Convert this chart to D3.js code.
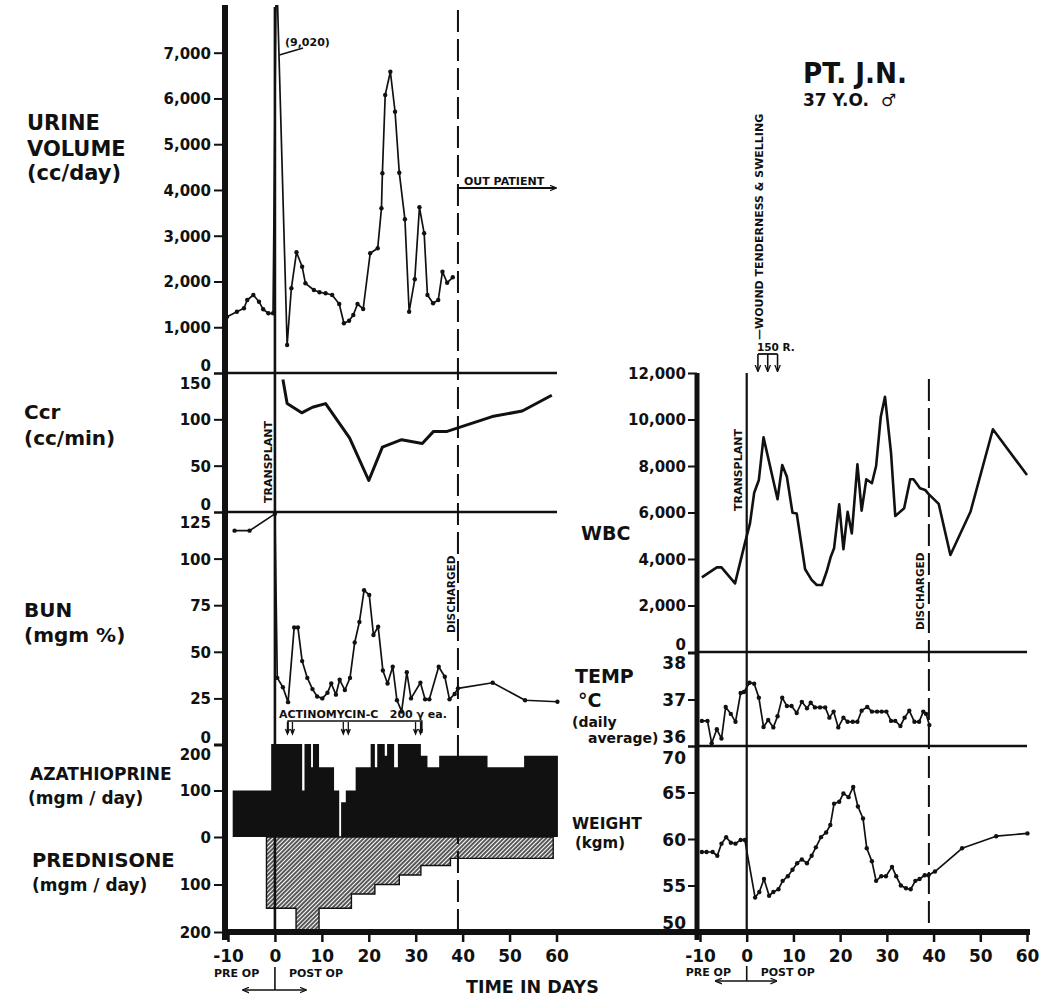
<!DOCTYPE html>
<html>
<head>
<meta charset="utf-8">
<script src="https://d3js.org/d3.v7.min.js"></script>
<style>
  body { margin: 0; background: #fff; }
  svg text { font-family: "DejaVu Sans", sans-serif; font-weight: bold; fill: #111; }
</style>
</head>
<body>
<script>
var width = 1050, height = 1004, ink = "#111";

// ---- values: [day, value] ----
var urine = [[-10.2,1230],[-8.1,1340],[-6.6,1414],[-5.9,1595],[-4.6,1705],[-3.4,1558],[-2.5,1392],[-1.4,1305],[-0.4,1305],
  [0.3,9020],[2.6,612],[3.5,1851],[4.6,2638],[5.8,2323],[6.5,1960],[8.3,1814],[9.5,1764],[10.8,1742],[12.2,1705],
  [13.7,1508],[14.7,1086],[15.8,1143],[16.7,1268],[17.6,1508],[18.8,1399],[20.3,2616],[21.9,2725],[22.7,3599],
  [22.9,4364],[23.5,6075],[24.6,6584],[25.6,5710],[26.5,4377],[27.7,3359],[28.6,1340],[29.8,2048],[30.8,3621],
  [31.8,3053],[32.5,1705],[33.7,1523],[34.8,1595],[35.7,2214],[36.7,1973],[37.9,2091]];

var ccr = [[1.7,143],[2.6,117],[5.7,107],[8.0,113],[10.8,117],[15.9,80],[20.0,34],[22.9,70],[27.0,78],
  [31.4,74],[33.8,87],[36.7,87],[46.3,103],[52.7,109],[59.0,126]];

var bun = [[-8.6,115],[-5.4,115],[0,124],[0.5,36],[1.7,31],[2.8,23],[4.1,63],[4.9,63],[5.8,45],[6.9,36],[8.0,30],
  [9.0,26],[10.1,25],[11.2,28],[12.0,33],[13.0,27],[13.8,35],[14.9,29.5],[16.0,36],[17.0,55],[18.0,66],[19.0,83],
  [20.1,80.5],[21.0,59],[22.0,63.5],[23.0,40],[24.0,33],[25.1,42],[26.0,24],[27.0,18],[28.1,39],[29.0,25],
  [31.0,33.4],[32.0,24.5],[32.9,24.5],[34.9,42],[36.2,36.6],[37.2,24.5],[38.3,27.4],[39.0,30.4],[46.4,33.4],
  [53.3,24],[60.2,23.2]];

// step doses: start day of each step, dose of that step
var azaStart = [-9,-0.8,5.8,6.3,7.7,8.1,9.4,12.6,13.7,14.1,15.1,17.2,20.4,21.3,21.8,23.4,23.9,25.4,26.2,31.1,32.5,35,45.3,53.1];
var azaDose  = [100,200,100,200,150,200,150,100,0,75,100,150,200,150,200,175,200,150,200,175,150,175,150,175];
var azaEnd = 60.3;
var predStart = [-1.8,4.5,9.4,16.3,21.3,26.5,31.1,37.4];
var predDose  = [150,200,150,120,100,80,60,45];
var predEnd = 59.3;
var actinoDays = [3.2,15.1,30.5], actinoSpan = [2.8,31.3];

var wbc = [[-9.6,3210],[-6.4,3640],[-5.4,3640],[-2.5,2950],[-0.4,4670],[0.7,5530],[1.6,6850],[2.6,7400],[3.6,9230],
  [6.6,6570],[7.6,8040],[8.6,7540],[9.8,5990],[10.7,5960],[12.5,3560],[13.9,3100],[15.0,2880],[16.1,2880],[17.1,3450],
  [18.0,4100],[18.7,4460],[19.8,6350],[20.7,4420],[21.6,6030],[22.5,5100],[23.7,8070],[24.6,6080],[25.6,7430],
  [26.8,7260],[27.7,8000],[28.7,10120],[29.6,10980],[30.9,8550],[31.8,5850],[33.7,6180],[35.0,7430],[35.7,7430],
  [37.1,7040],[38.2,6970],[38.9,6800],[41.1,6370],[43.6,4170],[47.9,6030],[52.7,9580],[60.0,7610]];

var temp = [[-9.6,36.54],[-8.4,36.54],[-7.5,36.06],[-6.4,36.36],[-5.4,36.16],[-4.5,36.84],[-3.4,36.69],[-2.4,36.52],
  [-1.3,37.14],[-0.6,37.16],[0.6,37.36],[1.6,37.34],[2.6,37.04],[3.6,36.41],[4.6,36.56],[5.7,36.40],[6.6,36.64],
  [7.6,37.04],[8.6,36.86],[9.6,36.86],[10.7,36.71],[11.8,36.95],[12.9,36.81],[13.7,36.93],[14.6,36.83],[15.7,36.83],
  [16.8,36.83],[17.7,36.61],[18.6,36.74],[19.6,36.40],[20.7,36.61],[21.6,36.52],[22.7,36.52],[23.7,36.52],[24.6,36.76],
  [25.8,36.84],[26.8,36.74],[27.9,36.74],[28.9,36.74],[29.9,36.74],[30.9,36.54],[31.8,36.54],[32.9,36.43],[33.8,36.61],
  [34.8,36.76],[35.9,36.52],[36.9,36.52],[37.8,36.74],[38.4,36.69],[39.1,36.45]];

var weight = [[-9.6,58.6],[-8.6,58.6],[-7.3,58.6],[-6.3,58.2],[-5.4,59.5],[-4.4,60.2],[-3.4,59.6],[-2.4,59.5],[-1.3,59.9],
  [-0.4,59.9],[1.8,53.7],[2.7,54.3],[3.7,55.7],[4.8,53.9],[5.7,54.3],[6.8,54.6],[7.7,55.5],[8.8,56.0],[9.8,56.7],
  [10.8,57.4],[11.8,57.8],[12.9,57.4],[13.9,58.2],[14.8,59.1],[15.9,60.2],[17.0,60.7],[17.9,61.5],[18.7,63.8],
  [19.8,64.0],[20.7,64.9],[21.8,64.5],[22.8,65.6],[23.8,63.5],[24.9,62.2],[25.7,59.0],[26.8,57.6],[27.7,55.5],
  [28.8,56.0],[29.8,56.0],[31.1,57.0],[32.0,56.0],[33.0,55.0],[34.1,54.7],[35.1,54.6],[36.1,55.5],[37.0,55.7],
  [38.1,56.1],[38.9,56.1],[40.3,56.5],[46.1,59.0],[53.4,60.3],[60.1,60.6]];

var radDays = [2.4,4.5,6.6];
var transplantDay = 0, dischargeDay = 39;

var dayTicks = [-10,0,10,20,30,40,50,60];
var urineTicks = [0,1000,2000,3000,4000,5000,6000,7000];
var ccrTicks = [0,50,100,150];
var bunTicks = [0,25,50,75,100,125];
var drugTicks = [0,100,200];
var wbcTicks = [0,2000,4000,6000,8000,10000,12000];
var tempTicks = [36,37,38];
var weightTicks = [50,55,60,65,70];

// ---- scales ----
var xL = d3.scaleLinear().domain([-10,60]).range([228,556.5]);
var xR = d3.scaleLinear().domain([-10,60]).range([700,1027]);
var yUrine = d3.scaleLinear().domain([0,7000]).range([373,52.7]);
var yCcr = d3.scaleLinear().domain([0,150]).range([512,373]);
var yBun = d3.scaleLinear().domain([0,125]).range([745,512]);
var yAza = d3.scaleLinear().domain([0,200]).range([837,744]);
var yPred = d3.scaleLinear().domain([0,200]).range([837,932]);
var yWbc = d3.scaleLinear().domain([0,12000]).range([652,373]);
var yTemp = d3.scaleLinear().domain([36,38]).range([746,653]);
var yWeight = d3.scaleLinear().domain([50,70]).range([932,746]);

var axisL = 225, axisR = 697, baseY = 932;

var svg = d3.select("body").append("svg").attr("width", width).attr("height", height);
var defs = svg.append("defs");

defs.append("pattern").attr("id", "hatch").attr("patternUnits", "userSpaceOnUse")
    .attr("width", 3).attr("height", 3).attr("patternTransform", "rotate(45)")
  .append("line").attr("x1", 1).attr("y1", 0).attr("x2", 1).attr("y2", 3)
    .attr("stroke", ink).attr("stroke-width", 1.4);

defs.append("marker").attr("id", "head").attr("viewBox", "0 0 10 10").attr("refX", 9).attr("refY", 5)
    .attr("markerWidth", 7).attr("markerHeight", 7).attr("orient", "auto-start-reverse")
    .attr("markerUnits", "userSpaceOnUse")
  .append("path").attr("d", "M0,1 L10,5 L0,9").attr("fill", "none").attr("stroke", ink).attr("stroke-width", 1.8);

defs.append("clipPath").attr("id", "urineClip")
  .append("rect").attr("x", 220).attr("y", 5).attr("width", 340).attr("height", 370);

function rule(x1, y1, x2, y2, w, dash) {
  return svg.append("line").attr("x1", x1).attr("y1", y1).attr("x2", x2).attr("y2", y2)
    .attr("stroke", ink).attr("stroke-width", w).attr("stroke-dasharray", dash || null);
}

// ---- drug doses (step areas) ----
function steps(starts, doses, end) {
  return starts.map(function(d, i) { return [d, doses[i]]; }).concat([[end, doses[doses.length - 1]]]);
}
svg.append("path").datum(steps(predStart, predDose, predEnd))
  .attr("d", d3.area().curve(d3.curveStepAfter).x(function(d) { return xL(d[0]); })
    .y0(yPred(0)).y1(function(d) { return yPred(d[1]); }))
  .attr("fill", "url(#hatch)").attr("stroke", ink).attr("stroke-width", 1.4);
svg.append("path").datum(steps(azaStart, azaDose, azaEnd))
  .attr("d", d3.area().curve(d3.curveStepAfter).x(function(d) { return xL(d[0]); })
    .y0(yAza(0)).y1(function(d) { return yAza(d[1]); }))
  .attr("fill", ink);

// ---- frame lines ----
rule(xL(transplantDay), 7, xL(transplantDay), baseY, 2.6);
rule(xL(dischargeDay), 10, xL(dischargeDay), baseY, 2, "22,7");
rule(axisL - 3, 373, 557, 373, 2.6);
rule(axisL - 3, 512, 557, 512, 2.6);
rule(axisL, 5, axisL, 940, 6);

rule(xR(transplantDay), 373, xR(transplantDay), baseY, 2.2);
rule(xR(dischargeDay), 379, xR(dischargeDay), baseY, 2, "22,7");
rule(axisR, 652, 1027, 652, 2.6);
rule(axisR, 746, 1027, 746, 2.6);
rule(axisR, 373, axisR, 940, 5);
rule(axisL - 3, baseY, 1030, baseY, 6);

// ---- data lines ----
function series(data, xs, ys, w, dots, clip) {
  var g = svg.append("g").attr("clip-path", clip ? "url(#" + clip + ")" : null);
  g.append("path").datum(data)
    .attr("d", d3.line().x(function(d) { return xs(d[0]); }).y(function(d) { return ys(d[1]); }))
    .attr("fill", "none").attr("stroke", ink).attr("stroke-width", w).attr("stroke-linejoin", "round");
  if (dots) {
    g.selectAll("circle").data(data).enter().append("circle")
      .attr("cx", function(d) { return xs(d[0]); }).attr("cy", function(d) { return ys(d[1]); })
      .attr("r", 2.2).attr("fill", ink);
  }
}
series(urine, xL, yUrine, 1.7, true, "urineClip");
series(ccr, xL, yCcr, 3, false);
series(bun, xL, yBun, 1.7, true);
series(wbc, xR, yWbc, 2.6, false);
series(temp, xR, yTemp, 1.7, true);
series(weight, xR, yWeight, 1.7, true);

// ---- axes ----
function yAxis(scale, ticks, x, font, size, pad, shift) {
  var g = svg.append("g").attr("transform", "translate(" + x + ",0)")
    .call(d3.axisLeft(scale).tickValues(ticks).tickSize(size).tickPadding(pad).tickFormat(d3.format(",")));
  g.select(".domain").remove();
  g.attr("font-size", font);
  g.selectAll(".tick line").attr("stroke", ink).attr("stroke-width", 2);
  g.selectAll(".tick text").attr("fill", ink)
    .attr("dy", function(d) { return (font * 0.36 + ((shift || {})[d] || 0)) + "px"; });
}
// labels that meet at a panel boundary are pushed apart
yAxis(yUrine, urineTicks, axisL, 15, 11, 3, {0: -8});
yAxis(yCcr, ccrTicks, axisL, 15, 11, 3, {0: -8, 150: 10});
yAxis(yBun, bunTicks, axisL, 15, 11, 3, {0: -8, 125: 10});
yAxis(yAza, drugTicks, axisL, 15, 11, 3, {200: 10});
yAxis(yPred, drugTicks.slice(1), axisL, 15, 11, 3);
yAxis(yWbc, wbcTicks, axisR, 15, 9, 2, {0: -8});
yAxis(yTemp, tempTicks, axisR, 17, 9, 2, {36: -10, 38: 9});
yAxis(yWeight, weightTicks, axisR, 17, 9, 2, {50: -10, 70: 11});

function xAxis(scale) {
  var g = svg.append("g").attr("transform", "translate(0," + baseY + ")")
    .call(d3.axisBottom(scale).tickValues(dayTicks).tickSize(10).tickPadding(8).tickFormat(function(d) { return String(d); }));
  g.select(".domain").remove();
  g.attr("font-size", 17);
  g.selectAll(".tick line").attr("stroke", ink).attr("stroke-width", 2.5);
  g.selectAll(".tick text").attr("fill", ink);
}
xAxis(xL);
xAxis(xR);

// ---- text ----
function label(x, y, str, size, extra) {
  var t = svg.append("text").attr("x", x).attr("y", y).attr("font-size", size).text(str);
  if (extra) extra(t);
  return t;
}
function vlabel(x, y, str, size) {
  return svg.append("text").attr("transform", "translate(" + x + "," + y + ") rotate(-90)")
    .attr("font-size", size).text(str);
}

label(27, 130, "URINE", 21);
label(27, 156, "VOLUME", 21);
label(27, 180, "(cc/day)", 21);
label(24, 419, "Ccr", 20);
label(24, 445, "(cc/min)", 20);
label(24, 617, "BUN", 20);
label(24, 642, "(mgm %)", 20);
label(30, 780, "AZATHIOPRINE", 17);
label(28, 804, "(mgm / day)", 17);
label(32, 867, "PREDNISONE", 19.5);
label(32, 891, "(mgm / day)", 17);

label(581, 540, "WBC", 19);
label(575, 683, "TEMP", 19);
label(578, 707, "\u00b0C", 19);
label(572, 727, "(daily", 14);
label(588, 743, "average)", 14);
label(572, 829, "WEIGHT", 15.5);
label(575, 848, "(kgm)", 15);

label(803, 83, "PT. J.N.", 28, function(t) { t.attr("textLength", 104).attr("lengthAdjust", "spacingAndGlyphs"); });
label(803, 106, "37 Y.O.\u00a0\u00a0\u2642", 17);

label(466, 993, "TIME IN DAYS", 17.5);

// pre-op / post-op markers
[[xL, 977, 990, -32, 31], [xR, 976, 981, -31, 30]].forEach(function(p) {
  var x0 = p[0](transplantDay);
  label(x0 - 61, p[1], "PRE OP", 11);
  label(x0 + 14, p[1], "POST OP", 11);
  rule(x0, p[1] - 10, x0, p[2], 1.6);
  svg.append("line").attr("x1", x0 + p[3]).attr("y1", p[2]).attr("x2", x0 + p[4]).attr("y2", p[2])
    .attr("stroke", ink).attr("stroke-width", 1.6)
    .attr("marker-start", "url(#head)").attr("marker-end", "url(#head)");
});

vlabel(272, 503, "TRANSPLANT", 11);
vlabel(742, 511, "TRANSPLANT", 11);
vlabel(455, 633, "DISCHARGED", 10.5);
vlabel(924, 630, "DISCHARGED", 10.5);

// urine annotations
label(285, 46, "(9,020)", 11);
rule(xL(0.95), 55, 303, 48, 1.5);
label(464, 185, "OUT PATIENT", 11);
svg.append("line").attr("x1", xL(dischargeDay)).attr("y1", 188).attr("x2", 556).attr("y2", 188)
  .attr("stroke", ink).attr("stroke-width", 1.8).attr("marker-end", "url(#head)");

// actinomycin doses
label(279, 718, "ACTINOMYCIN-C\u00a0\u00a0\u00a0200\u00a0\u03b3\u00a0ea.", 11);
svg.append("path")
  .attr("d", "M" + xL(actinoSpan[0]) + ",733V721H" + xL(actinoSpan[1]) + "V733")
  .attr("fill", "none").attr("stroke", ink).attr("stroke-width", 1.6);
actinoDays.forEach(function(d) {
  [-2.5, 2.5].forEach(function(o) {
    var x = xL(d) + o;
    svg.append("path").attr("d", "M" + x + ",722V734M" + (x - 2) + ",729L" + x + ",734L" + (x + 2) + ",729")
      .attr("fill", "none").attr("stroke", ink).attr("stroke-width", 1.3);
  });
});

// radiation / wound notes
vlabel(763, 340, "\u2014WOUND TENDERNESS & SWELLING", 11);
label(757, 351, "150 R.", 10.5);
rule(xR(radDays[0]), 354, xR(radDays[2]), 354, 1.8);
radDays.forEach(function(d) {
  svg.append("line").attr("x1", xR(d)).attr("y1", 354).attr("x2", xR(d)).attr("y2", 371)
    .attr("stroke", ink).attr("stroke-width", 1.6).attr("marker-end", "url(#head)");
});
</script>
</body>
</html>
